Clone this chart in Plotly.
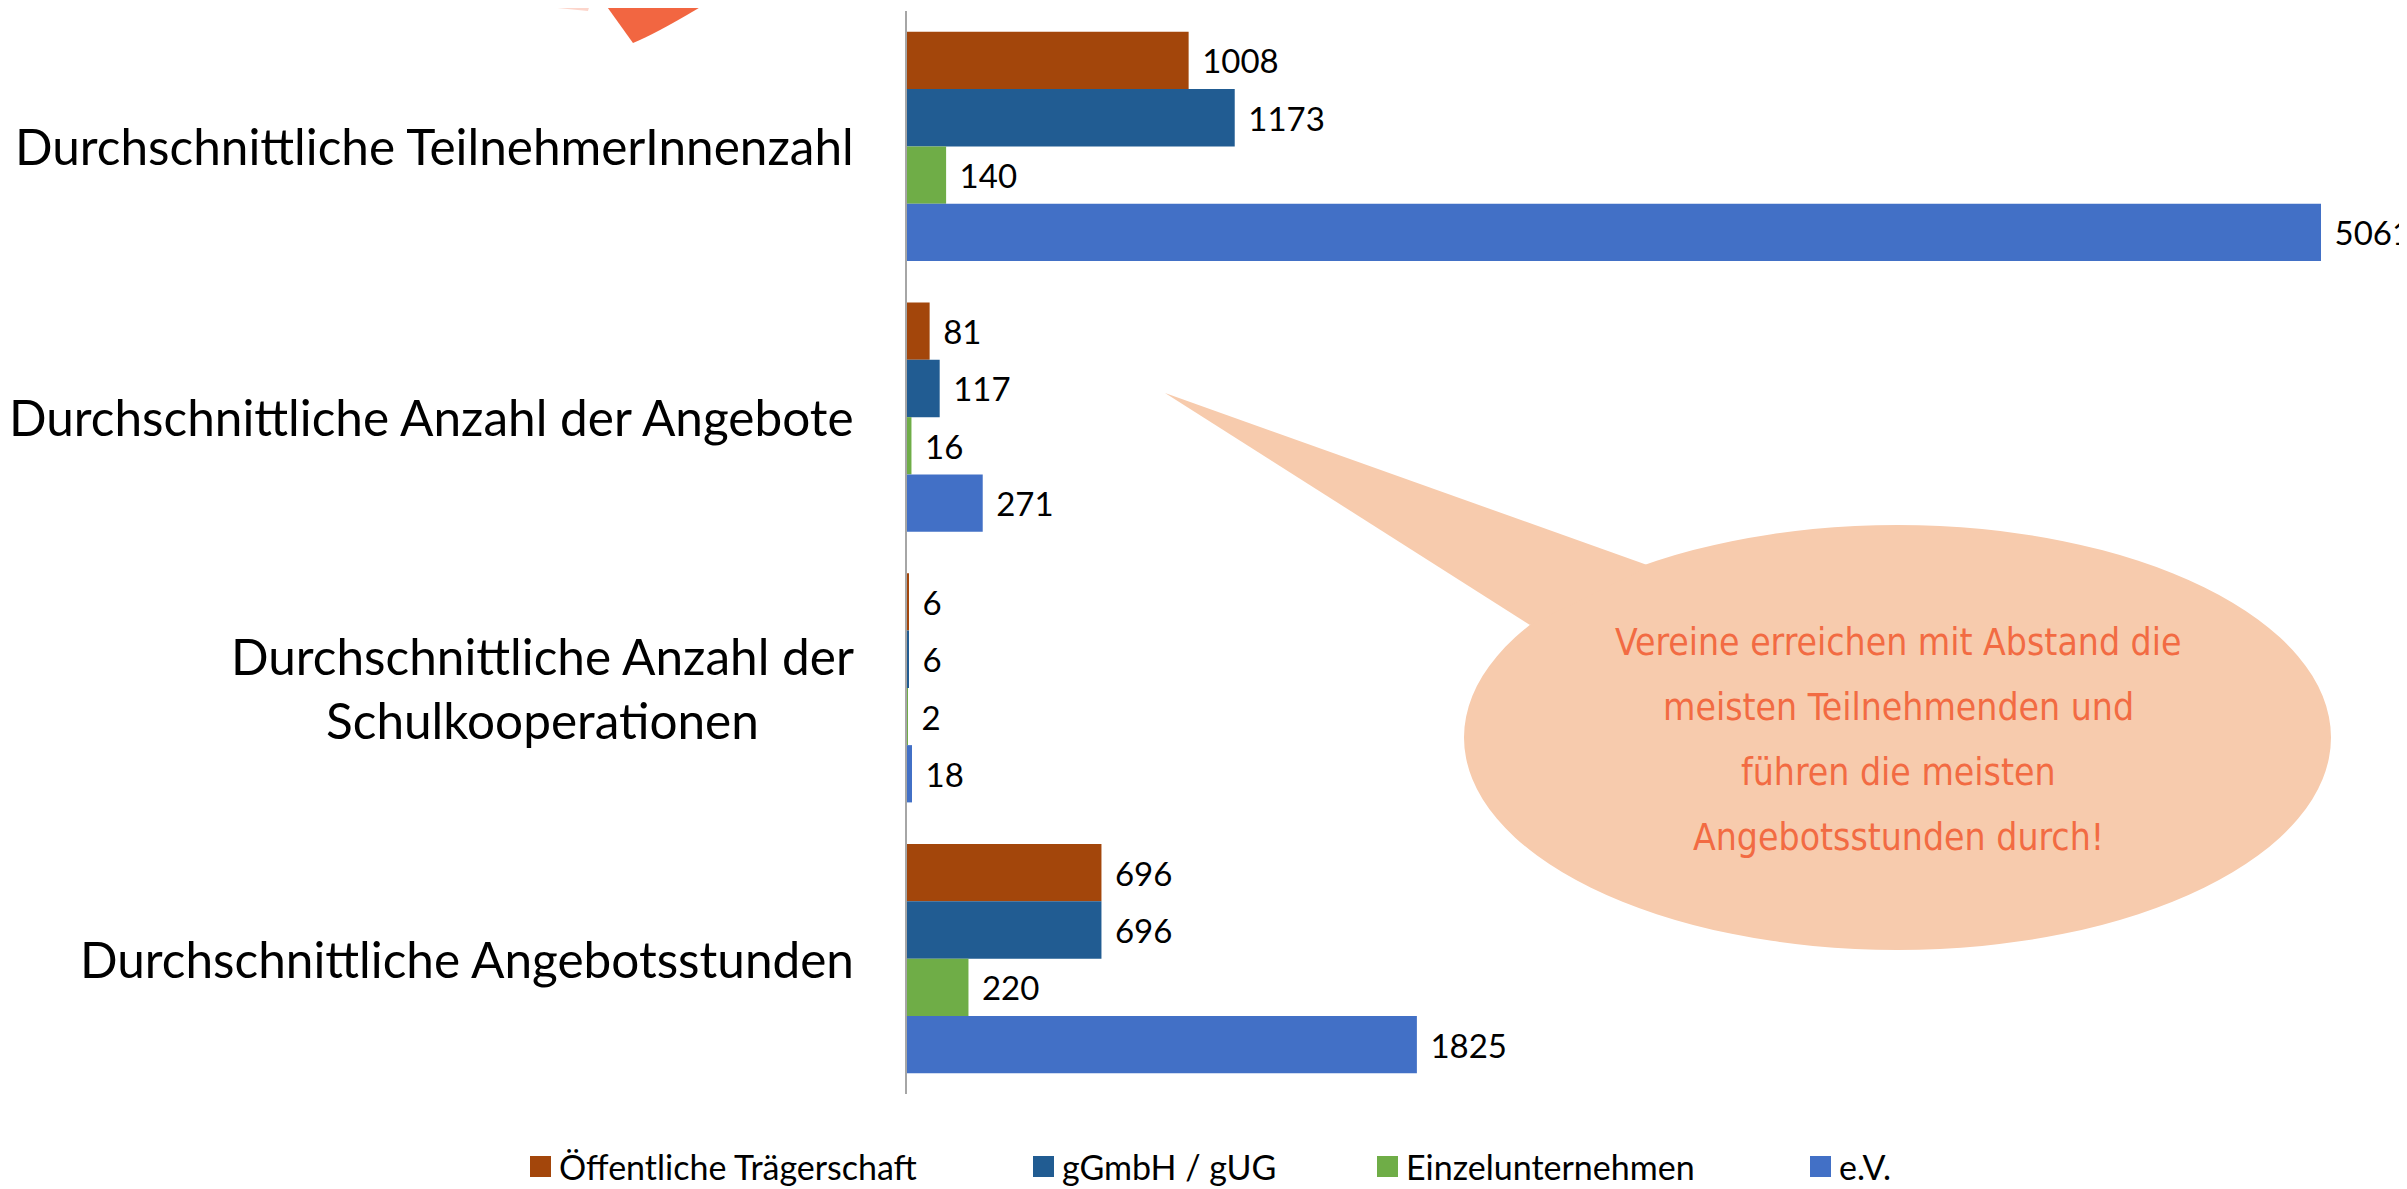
import numpy as np
import plotly.graph_objects as go

# ---------------- data ----------------
categories = [
    "Durchschnittliche TeilnehmerInnenzahl",
    "Durchschnittliche Anzahl der Angebote",
    "Durchschnittliche Anzahl der<br>Schulkooperationen",
    "Durchschnittliche Angebotsstunden",
]
series_names = ["Öffentliche Trägerschaft", "gGmbH / gUG", "Einzelunternehmen", "e.V."]
oeffentlich = [1008, 81, 6, 696]
ggmbh = [1173, 117, 6, 696]
einzel = [140, 16, 2, 220]
ev = [5061, 271, 18, 1825]
callout_lines = [
    "Vereine erreichen mit Abstand die",
    "meisten Teilnehmenden und",
    "führen die meisten",
    "Angebotsstunden durch!",
]

# ---------------- styling ----------------
colors = ["#A3460B", "#215C92", "#6FAD47", "#4270C6"]
OFF = 8                                   # browser body margin
PAGE_W, PAGE_H = 2407, 1189
W, H = PAGE_W - OFF, PAGE_H - OFF
# plot area in page pixels
L, R, T, B = 907, 2407, 11, 1094
PX_PER_UNIT = 1414 / 5061

def px(x):
    return (x - L) / (R - L)

def py(y):
    return (B - y) / (B - T)

fig = go.Figure()
for name, vals, col in zip(series_names, [oeffentlich, ggmbh, einzel, ev], colors):
    fig.add_trace(go.Bar(
        y=categories, x=vals, name=name, orientation="h",
        marker=dict(color=col, line=dict(width=0)),
        text=vals, texttemplate="\u00a0\u200a%{x}", textposition="outside",
        textfont=dict(family="Lato", size=33, color="black"),
        cliponaxis=False, constraintext="none", hoverinfo="skip",
    ))

shapes = []
annotations = []

# category labels (centered multi-line, right aligned block)
for c in categories:
    annotations.append(dict(
        x=px(856), xref="paper", y=c, yref="y", text=c, showarrow=False,
        xanchor="right", yanchor="middle", align="center",
        font=dict(family="Lato", size=49.5, color="black"),
    ))

# manual legend
leg_x = [530, 1033, 1377, 1810]
for name, col, lx in zip(series_names, colors, leg_x):
    shapes.append(dict(type="rect", xref="paper", yref="paper",
                       x0=px(lx), x1=px(lx + 21), y0=py(1156), y1=py(1177),
                       fillcolor=col, line=dict(width=0)))
    annotations.append(dict(
        x=px(lx + 27), xref="paper", y=py(1166), yref="paper", text=name,
        showarrow=False, xanchor="left", yanchor="middle",
        font=dict(family="Lato", size=34, color="black"),
    ))

# speech bubble callout
bubble = "#F7CBAD"
shapes.append(dict(type="circle", xref="paper", yref="paper",
                   x0=px(1464), x1=px(2331), y0=py(950), y1=py(525),
                   fillcolor=bubble, line=dict(width=0), layer="above"))
tail = [(1165, 393), (1650, 566), (1530, 625)]
path = "M " + " L ".join(f"{px(a):.5f},{py(b):.5f}" for a, b in tail) + " Z"
shapes.append(dict(type="path", xref="paper", yref="paper", path=path,
                   fillcolor=bubble, line=dict(width=0), layer="above"))
for i, line in enumerate(callout_lines):
    annotations.append(dict(
        x=px(1898), xref="paper", y=py(642 + 65 * i), yref="paper", text=line,
        showarrow=False, xanchor="center", yanchor="middle",
        font=dict(family="Liberation Sans Narrow, DejaVu Sans Condensed, sans-serif",
                  size=37, color="#F26B43"),
    ))

# decorative slide fragments at top-left
pink = [(445, -3), (588, 11), (592, -3)]
shapes.append(dict(type="path", xref="paper", yref="paper",
                   path="M " + " L ".join(f"{px(a):.5f},{py(b):.5f}" for a, b in pink) + " Z",
                   fillcolor="#FCD5CB", line=dict(width=0), layer="above"))
red_path = (f"M {px(600):.5f},{py(-3):.5f} L {px(633):.5f},{py(43):.5f} "
            f"Q {px(660):.5f},{py(32):.5f} {px(717):.5f},{py(-3):.5f} Z")
shapes.append(dict(type="path", xref="paper", yref="paper", path=red_path,
                   fillcolor="#F26641", line=dict(width=0), layer="above"))

fig.update_layout(
    width=W, height=H,
    margin=dict(l=L - OFF, r=PAGE_W - R, t=T - OFF, b=PAGE_H - B, autoexpand=False),
    paper_bgcolor="white", plot_bgcolor="white",
    barmode="group", bargap=0.154, bargroupgap=0,
    showlegend=False,
    xaxis=dict(range=[0, (R - L) / PX_PER_UNIT], showgrid=False, zeroline=False,
               showticklabels=False, showline=False, ticks=""),
    yaxis=dict(type="category", categoryorder="array", categoryarray=categories,
               range=[3.5, -0.5], showline=True, linecolor="#A6A6A6", linewidth=2,
               showticklabels=False, ticks="", showgrid=False, zeroline=False),
    shapes=shapes, annotations=annotations,
    font=dict(family="Lato"),
)

fig.write_html("out.html")
